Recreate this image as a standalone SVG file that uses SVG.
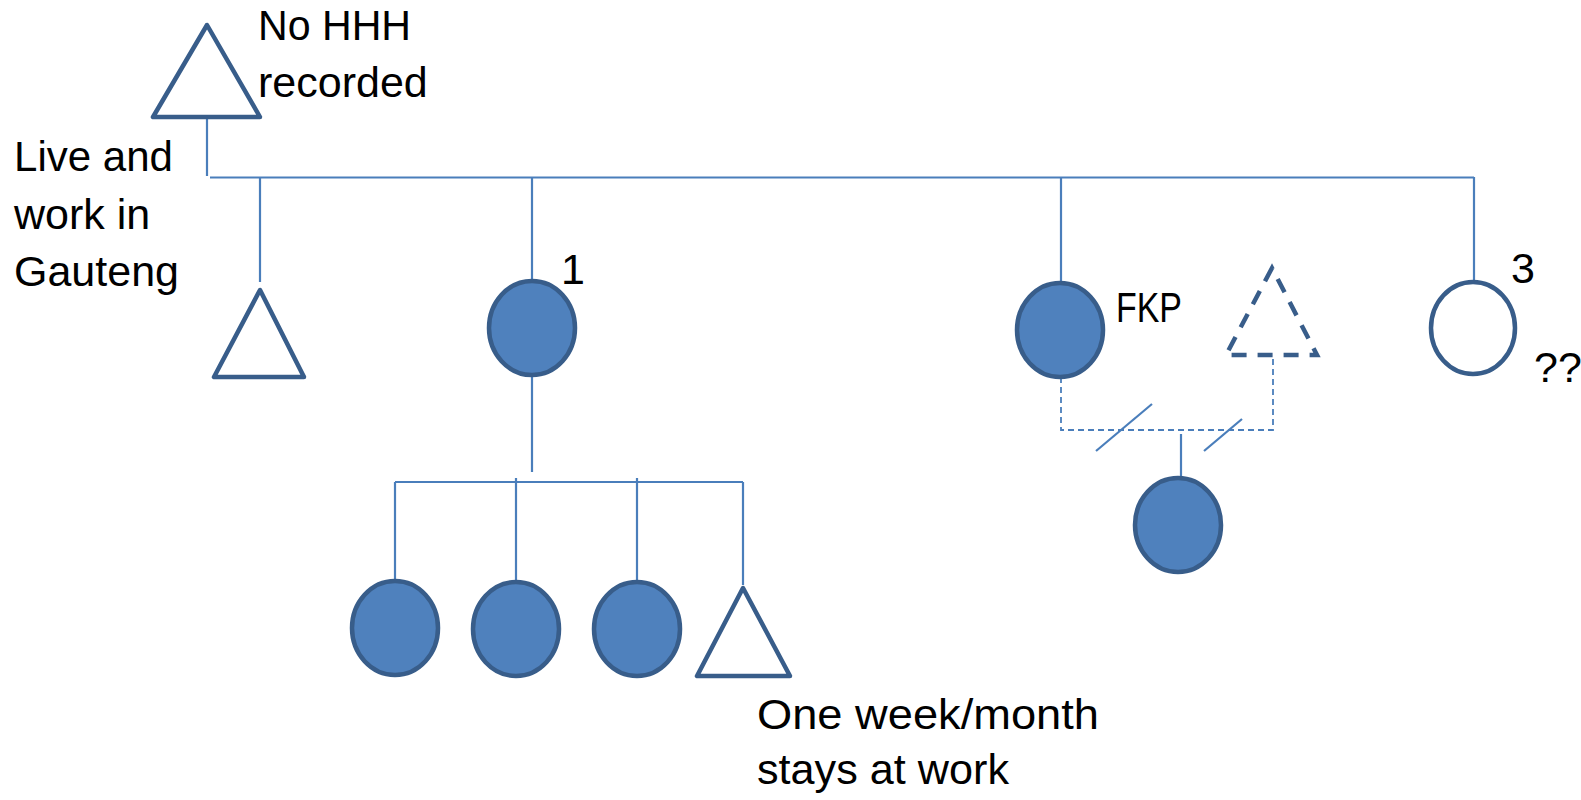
<svg xmlns="http://www.w3.org/2000/svg" width="1581" height="800" viewBox="0 0 1581 800">
<style>
.t{font-family:"Liberation Sans",Arial,sans-serif;font-size:43px;fill:#000}
.c{stroke:#4A7EBB;stroke-width:2.2;fill:none}
.dc{stroke:#4A7EBB;stroke-width:1.8;fill:none;stroke-dasharray:6 4}
.f{fill:#4F81BD;stroke:#385D8A;stroke-width:4.5}
.o{fill:#fff;stroke:#385D8A;stroke-width:4.5;stroke-linejoin:round}
.d{fill:none;stroke:#385D8A;stroke-width:4.5;stroke-dasharray:15 11}
</style>
<rect width="1581" height="800" fill="#fff"/>
<g id="connectors">
<line class="c" x1="207" y1="117" x2="207" y2="176"/>
<line class="c" x1="210" y1="177.5" x2="1474" y2="177.5" stroke-width="3"/>
<line class="c" x1="260" y1="177" x2="260" y2="282"/>
<line class="c" x1="532" y1="177" x2="532" y2="282"/>
<line class="c" x1="532" y1="375" x2="532" y2="472"/>
<line class="c" x1="395" y1="482" x2="743" y2="482"/>
<line class="c" x1="395" y1="482" x2="395" y2="580"/>
<line class="c" x1="516" y1="478" x2="516" y2="582"/>
<line class="c" x1="637" y1="478" x2="637" y2="582"/>
<line class="c" x1="743" y1="482" x2="743" y2="585"/>
<line class="c" x1="1061" y1="177" x2="1061" y2="283"/>
<line class="c" x1="1474" y1="177" x2="1474" y2="281"/>
<polyline class="dc" points="1061,357 1061,430 1273,430 1273,356"/>
<line class="c" x1="1096" y1="451" x2="1152" y2="404" stroke-width="1.8"/>
<line class="c" x1="1204" y1="451" x2="1242" y2="419" stroke-width="1.8"/>
<line class="c" x1="1181" y1="434" x2="1181" y2="478"/>
</g>
<g id="top-male">
<polygon class="o" points="207,25 153,117 260,117"/>
</g>
<g id="child-male">
<polygon class="o" points="260,290 214,377 304,377"/>
</g>
<g id="child-1">
<ellipse class="f" cx="532" cy="328" rx="43" ry="47"/>
</g>
<g id="child-fkp">
<ellipse class="f" cx="1060" cy="330" rx="43" ry="47"/>
</g>
<g id="child-3">
<ellipse class="o" cx="1473" cy="328" rx="42" ry="46"/>
</g>
<g id="partner">
<polygon class="d" points="1272,268 1226,355 1317,355"/>
</g>
<g id="gc-1"><ellipse class="f" cx="395" cy="628" rx="43" ry="47"/></g>
<g id="gc-2"><ellipse class="f" cx="516" cy="629" rx="43" ry="47"/></g>
<g id="gc-3"><ellipse class="f" cx="637" cy="629" rx="43" ry="47"/></g>
<g id="gc-4"><polygon class="o" points="743,588 697,676 790,676"/></g>
<g id="gc-fkp"><ellipse class="f" cx="1178" cy="525" rx="43" ry="47"/></g>
<g id="labels">
<text class="t" x="258" y="40" textLength="153" lengthAdjust="spacingAndGlyphs">No HHH</text>
<text class="t" x="258" y="97">recorded</text>
<text class="t" x="14" y="171" textLength="159" lengthAdjust="spacingAndGlyphs">Live and</text>
<text class="t" x="14" y="229">work in</text>
<text class="t" x="14" y="286">Gauteng</text>
<text class="t" x="561" y="284">1</text>
<text class="t" x="1116" y="322" textLength="66" lengthAdjust="spacingAndGlyphs">FKP</text>
<text class="t" x="1511" y="283">3</text>
<text class="t" x="1534" y="382">??</text>
<text class="t" x="757" y="729" textLength="342" lengthAdjust="spacingAndGlyphs">One week/month</text>
<text class="t" x="757" y="784" textLength="252" lengthAdjust="spacingAndGlyphs">stays at work</text>
</g>
</svg>
